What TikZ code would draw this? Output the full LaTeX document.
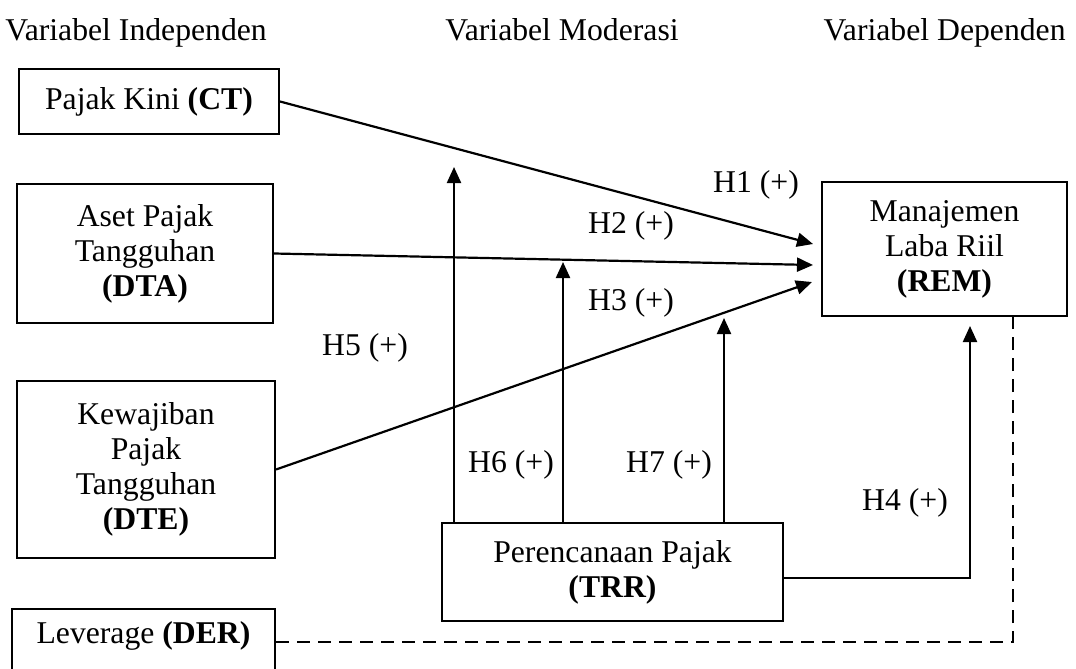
\documentclass[tikz,border=0pt]{standalone}
\usepackage{fontspec}
\setmainfont{Liberation Serif}
\usetikzlibrary{arrows.meta}

\tikzset{
	box/.style={draw, line width=1pt, inner sep=0pt, align=center},
	arr/.style={-{Triangle[length=8pt,width=7pt]}, line width=1.1pt},
	lbl/.style={inner sep=0pt}
}

\begin{document}
\begin{tikzpicture}[x=0.5pt,y=-0.5pt,font=\fontsize{15.85}{17.5}\selectfont]
	\clip (0,0) rectangle (1076,669);
	%headers
	\node[lbl,anchor=base west] (hind) at (5,40) {Variabel Independen};
	\node[lbl,anchor=base west] (hmod) at (445,40) {Variabel Moderasi};
	\node[lbl,anchor=base east] (hdep) at (1066,40) {Variabel Dependen};
	%boxes
	\node[box,minimum width=130pt,minimum height=32.5pt] (ct) at (149,101.5) {Pajak Kini \textbf{(CT)}};
	\node[box,minimum width=128pt,minimum height=69.5pt] (dta) at (145,253.5) {Aset Pajak\\Tangguhan\\\textbf{(DTA)}};
	\node[box,minimum width=129pt,minimum height=88.5pt] (dte) at (146,469.5) {Kewajiban\\Pajak\\Tangguhan\\\textbf{(DTE)}};
	\node[box,minimum width=131.5pt,text height=17pt,text depth=28.5pt,anchor=base] (der) at (143.5,643) {Leverage \textbf{(DER)}};
	\node[box,minimum width=122.5pt,minimum height=67pt] (rem) at (944.5,249) {Manajemen\\Laba Riil\\\textbf{(REM)}};
	\node[box,minimum width=170.5pt,minimum height=49pt] (trr) at (612.5,572) {Perencanaan Pajak\\\textbf{(TRR)}};
	%arrow tips
	\coordinate (r1) at (813,244);
	\coordinate (r2) at (813,265);
	\coordinate (r3) at (812,282);
	\foreach \nm/\x/\y in {m5/454/167, m6/563/262, m7/724/318, m4/970/326}
	\coordinate (\nm) at (\x,\y);
	\coordinate (bend) at (970,578);
	\coordinate (dcorner) at (1013,642);
	%connectors
	\draw[arr] (ct.east) -- (r1);
	\draw[arr] (dta.east) -- (r2);
	\draw[arr] (dte.east) -- (r3);
	\foreach \nm in {m5, m6, m7}
	\draw[arr] (trr.north -| \nm) -- (\nm);
	\draw[arr] (trr.east |- bend) -- (bend) -- (m4);
	\draw[line width=1pt,dash pattern=on 6.5pt off 4pt] (der.east |- dcorner) -- (dcorner) -- (rem.south -| dcorner);
	%labels
	\node[lbl] (h1) at (756,185) {H1 (+)};
	\node[lbl] (h2) at (631,226) {H2 (+)};
	\node[lbl] (h3) at (631,303) {H3 (+)};
	\node[lbl] (h5) at (365,348) {H5 (+)};
	\node[lbl] (h6) at (511,465) {H6 (+)};
	\node[lbl] (h7) at (669,465) {H7 (+)};
	\node[lbl] (h4) at (905,503) {H4 (+)};
\end{tikzpicture}
\end{document}
